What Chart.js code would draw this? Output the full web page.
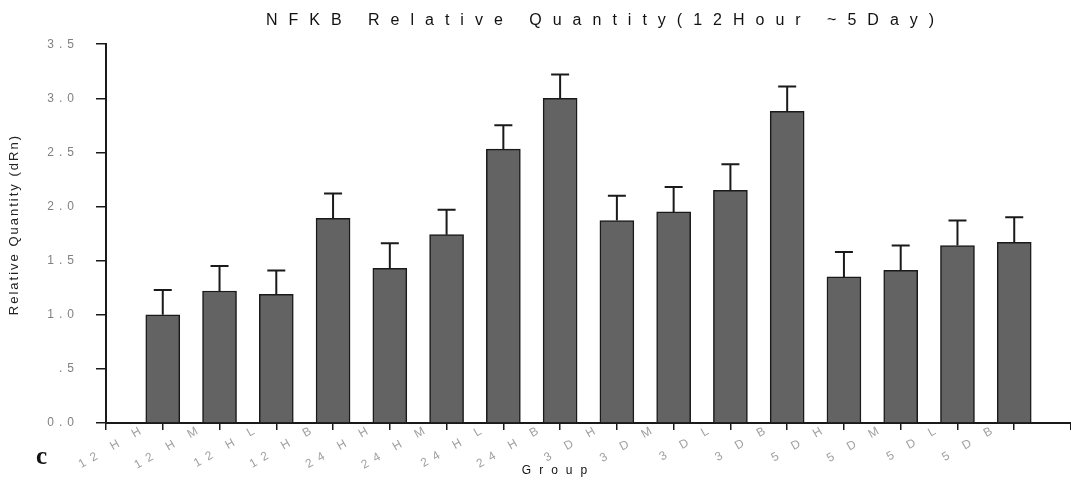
<!DOCTYPE html>
<html>
<head>
<meta charset="utf-8">
<script src="https://cdn.jsdelivr.net/npm/chart.js@4/dist/chart.umd.min.js"></script>
<style>
  body { margin: 0; background: #fff; }
  #wrap { position: relative; width: 1071px; height: 485px; }
  #panel { position: absolute; left: 36px; top: 442px; font: bold 25px "Liberation Serif", "Times New Roman", serif; color: #111; }
</style>
</head>
<body>
<div id="wrap">
  <canvas id="chart"></canvas>
  <div id="panel">c</div>
</div>
<script>
// Data
const categories = ['12 H H', '12 H M', '12 H L', '12 H B', '24 H H', '24 H M', '24 H L', '24 H B',
                    '3 D H', '3 D M', '3 D L', '3 D B', '5 D H', '5 D M', '5 D L', '5 D B'];
const quantity = [1.00, 1.22, 1.19, 1.89, 1.43, 1.74, 2.53, 3.00, 1.87, 1.95, 2.15, 2.88, 1.35, 1.41, 1.64, 1.67];
const errors = [0.23, 0.23, 0.22, 0.23, 0.23, 0.23, 0.22, 0.22, 0.23, 0.23, 0.24, 0.23, 0.23, 0.23, 0.23, 0.23];
const yTicks = [0, 0.5, 1, 1.5, 2, 2.5, 3, 3.5];

// empty slot at each end so the bars sit one step in from the axes
const labels = [''].concat(categories, ['']);
const values = [null].concat(quantity, [null]);
const errs = [null].concat(errors, [null]);

// wrap a draw method so the text gets letter spacing (and an optional shift)
function spaced(obj, name, sp, dx, dy) {
  if (obj['_sp_' + name]) return;
  const orig = obj[name];
  obj[name] = function() {
    const c = this.ctx;
    c.save();
    c.letterSpacing = sp;
    c.translate(dx || 0, dy || 0);
    orig.apply(this, arguments);
    c.restore();
  };
  obj['_sp_' + name] = true;
}

const spacingPlugin = {
  id: 'spacing',
  beforeDraw(chart) {
    spaced(chart.scales.x, 'drawLabels', '6.5px');
    spaced(chart.scales.x, 'drawTitle', '8px', -30, 0);
    spaced(chart.scales.y, 'drawLabels', '5px');
    spaced(chart.scales.y, 'drawTitle', '2px', 0, -9);
    if (chart.titleBlock) spaced(chart.titleBlock, 'draw', '11px', 70, 0);
  }
};

// error bars (upper only)
const errorBars = {
  id: 'errorBars',
  afterDatasetsDraw(chart) {
    const ctx = chart.ctx;
    const y = chart.scales.y;
    const meta = chart.getDatasetMeta(0);
    ctx.save();
    ctx.strokeStyle = '#1a1a1a';
    ctx.lineWidth = 2;
    meta.data.forEach((bar, i) => {
      if (values[i] == null) return;
      const top = y.getPixelForValue(values[i] + errs[i]);
      ctx.beginPath();
      ctx.moveTo(bar.x, bar.y);
      ctx.lineTo(bar.x, top);
      ctx.moveTo(bar.x - 9, top);
      ctx.lineTo(bar.x + 9, top);
      ctx.stroke();
    });
    ctx.restore();
  }
};

const ctx = document.getElementById('chart').getContext('2d');
new Chart(ctx, {
  type: 'bar',
  data: {
    labels: labels,
    datasets: [{
      data: values,
      backgroundColor: '#636363',
      borderColor: '#1a1a1a',
      borderWidth: 1.5,
      barThickness: 34
    }]
  },
  options: {
    responsive: true,
    maintainAspectRatio: false,
    animation: false,
    layout: { padding: 0 },
    plugins: {
      legend: { display: false },
      tooltip: { enabled: false },
      title: {
        display: true,
        text: 'NFKB Relative Quantity(12Hour ~5Day)',
        color: '#111',
        font: { family: '"Liberation Sans", Arial, sans-serif', size: 16, weight: 'normal' },
        padding: { top: 11, bottom: 14 }
      }
    },
    scales: {
      x: {
        offset: false,
        grid: { display: true, drawOnChartArea: false, color: '#1a1a1a', lineWidth: 1.5, tickLength: 7, offset: false },
        border: { color: '#1a1a1a', width: 2 },
        ticks: {
          color: '#a0a0a0',
          font: { family: '"Liberation Sans", Arial, sans-serif', size: 12 },
          minRotation: 30,
          maxRotation: 30,
          autoSkip: false,
          labelOffset: -17,
          padding: -9
        },
        title: {
          display: true,
          text: 'Group',
          color: '#111',
          font: { family: '"Liberation Sans", Arial, sans-serif', size: 12 },
          padding: { top: 0, bottom: 7 }
        },
        afterFit(scale) { scale.height = 62; }
      },
      y: {
        min: 0,
        max: 3.5,
        afterBuildTicks(scale) { scale.ticks = yTicks.map(v => ({ value: v })); },
        grid: { display: true, drawOnChartArea: false, color: '#1a1a1a', lineWidth: 1.5, tickLength: 10 },
        border: { color: '#1a1a1a', width: 2 },
        ticks: {
          color: '#808080',
          font: { family: '"Liberation Sans", Arial, sans-serif', size: 12 },
          padding: 17,
          callback: v => v.toFixed(1).replace(/^0(?=\.[1-9])/, '')
        },
        title: {
          display: true,
          text: 'Relative Quantity (dRn)',
          color: '#222',
          font: { family: '"Liberation Sans", Arial, sans-serif', size: 13 },
          padding: { top: 7, bottom: 0 }
        },
        afterFit(scale) { scale.width = 106; }
      }
    }
  },
  plugins: [spacingPlugin, errorBars]
});
</script>
</body>
</html>
